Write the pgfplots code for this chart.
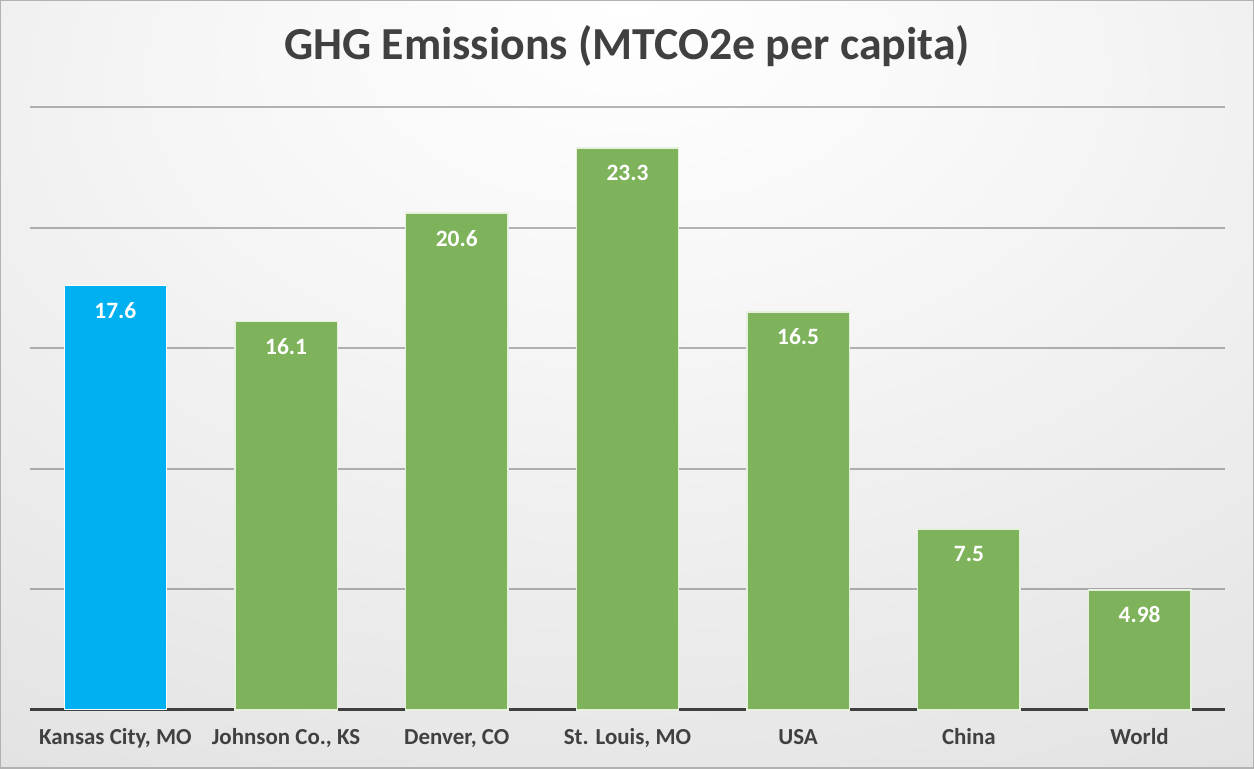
\documentclass[border=0pt]{standalone}
\usepackage{pgfplots}
\pgfplotsset{compat=1.18}
\usepackage{fontspec}
\setmainfont{Carlito}
\definecolor{txt}{HTML}{404040}
\definecolor{kcblue}{HTML}{00B0F0}
\definecolor{grn}{HTML}{7EB35B}
\pgfdeclareradialshading{bg}{\pgfpoint{0bp}{25bp}}{color(0bp)=(white); color(15bp)=(white!97!black); color(80bp)=(white!80!black); color(100bp)=(white!78!black)}
\begin{document}
\begin{tikzpicture}[x=1bp,y=1bp]
\path[use as bounding box] (0,0) rectangle (1254,769);
\shade[shading=bg] (0,0) rectangle (1254,769);
\draw[white!70!black, line width=1.5bp] (0.75,0.75) rectangle (1253.25,768.25);
\node[font=\bfseries\fontsize{46}{52}\selectfont, text=txt] at (627,723) {GHG Emissions (MTCO2e per capita)};
\begin{axis}[
  at={(30bp,59bp)}, anchor=south west,
  width=1195bp, height=603bp, scale only axis,
  xmin=-0.5, xmax=6.5, ymin=0, ymax=25,
  axis x line=bottom, axis y line=left,
  y axis line style={draw=none},
  x axis line style={-, line width=3bp, draw=txt},
  ytick={5,10,15,20,25}, yticklabels={},
  ymajorgrids,
  grid style={black, opacity=0.28, line width=2bp},
  xtick={0,...,6},
  xticklabels={{Kansas City, MO}, {Johnson Co., KS}, {Denver, CO}, {St. Louis, MO}, USA, China, World},
  xticklabel style={font=\bfseries\fontsize{23}{27}\selectfont, text=txt, anchor=base, yshift=-35bp},
  major tick length=0pt,
  tick style={draw=none},
  clip=false,
  ybar, bar width=0.6, bar shift=0pt,
  nodes near coords,
  point meta=explicit symbolic,
  every node near coord/.append style={font=\bfseries\fontsize{23.5}{27}\selectfont, text=white, anchor=center, yshift=-25bp},
]
\addplot[fill=kcblue, draw=white, line width=1bp] coordinates {(0,17.6) [17.6]};
\addplot[fill=grn, draw=white!80!grn, line width=1.5bp] coordinates {
(1,16.1) [16.1]
(2,20.6) [20.6]
(3,23.3) [23.3]
(4,16.5) [16.5]
(5,7.5) [7.5]
(6,4.98) [4.98]
};
\end{axis}
\end{tikzpicture}
\end{document}
